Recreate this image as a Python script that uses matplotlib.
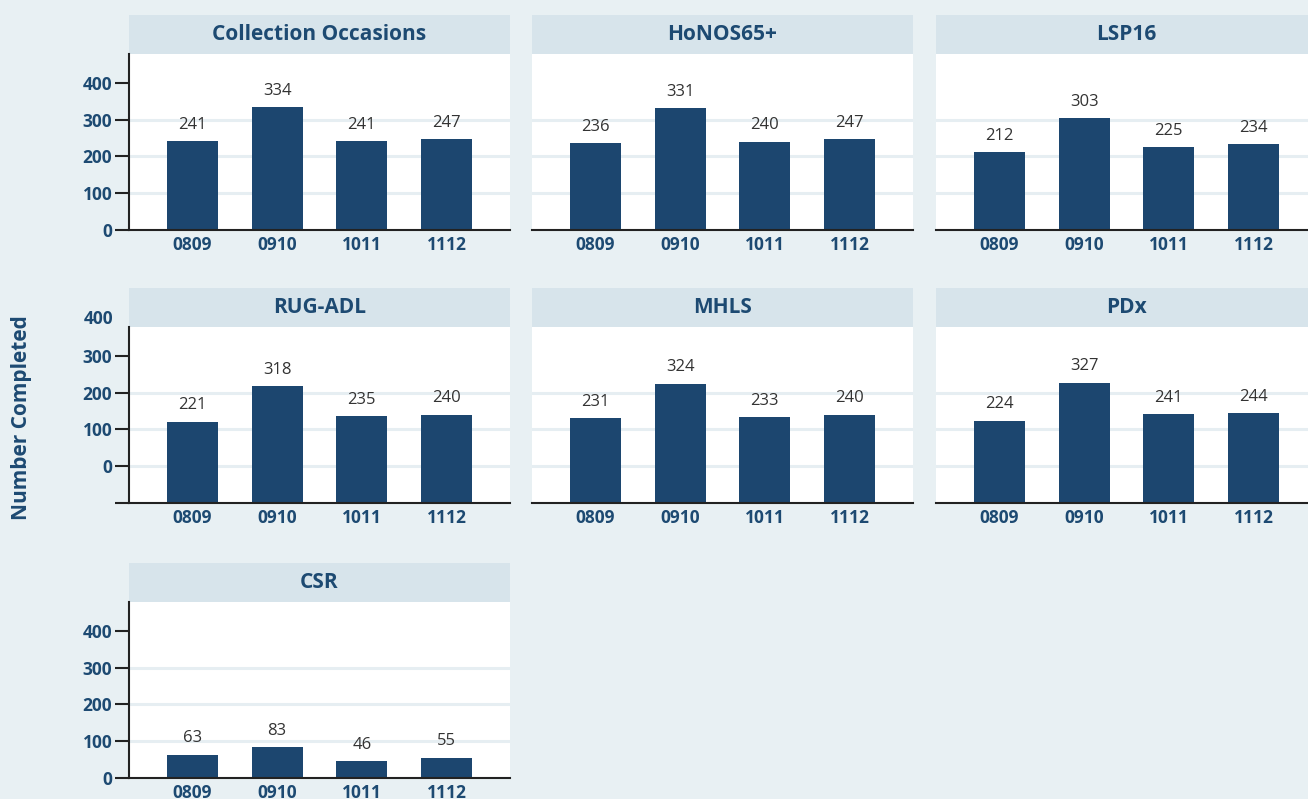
import matplotlib.pyplot as plt
from matplotlib.patches import Rectangle
from matplotlib.transforms import blended_transform_factory

plt.rcParams['font.family'] = ['Open Sans', 'DejaVu Sans']

years = ['0809', '0910', '1011', '1112']
panel_names = ['Collection Occasions', 'HoNOS65+', 'LSP16',
               'RUG-ADL', 'MHLS', 'PDx', 'CSR']
collection = [241, 334, 241, 247]
honos = [236, 331, 240, 247]
lsp16 = [212, 303, 225, 234]
rug_adl = [221, 318, 235, 240]
mhls = [231, 324, 233, 240]
pdx = [224, 327, 241, 244]
csr = [63, 83, 46, 55]
panel_values = [collection, honos, lsp16, rug_adl, mhls, pdx, csr]
y_ticks = [0, 100, 200, 300, 400]

BG = '#e8f0f3'
STRIP = '#d7e4eb'
BAR = '#1c466f'
BLUE = '#1d4a72'
GRID = '#e6eef2'

W, H = 1308, 799
fig = plt.figure(figsize=(W / 100, H / 100), dpi=100, facecolor=BG)

col_left = [129, 532, 936]
row_base = [230, 503, 778]
ax_w, ax_h, strip_h = 381, 176, 39
TICK_FS = 12.5


def draw_panel(i, name, values):
  row, col = divmod(i, 3)
  ax = fig.add_axes([col_left[col] / W, 1 - row_base[row] / H, ax_w / W, ax_h / H])
  ax.set_facecolor('white')
  x = range(len(years))
  ax.bar(x, values, width=0.6, color=BAR, zorder=3)
  for xi, v in zip(x, values):
    ax.annotate(str(v), (xi, v), xytext=(0, 6), textcoords='offset points',
                ha='center', va='bottom', fontsize=12, color='#333333')
  ax.set_xlim(-0.75, 3.75)
  ax.set_ylim(0, 478)
  for g in [100, 200, 300]:
    ax.axhline(g, color=GRID, lw=2.2, zorder=1)
  ax.set_xticks(list(x))
  ax.set_xticklabels(years, fontsize=TICK_FS, fontweight='bold', color=BLUE)
  ax.tick_params(axis='x', length=0, pad=4)
  for s in ['top', 'right']:
    ax.spines[s].set_visible(False)
  ax.spines['bottom'].set_color('#222222')
  ax.spines['bottom'].set_linewidth(1.5)
  ax.spines['bottom'].set_zorder(4)

  if col == 0:
    ax.spines['left'].set_color('#222222')
    ax.spines['left'].set_linewidth(1.5)
    ax.tick_params(axis='y', length=10, width=1.5, color='#222222', pad=2)
    ax.set_yticks(y_ticks)
    if row == 1:
      # this row's tick labels sit one step higher than the bars
      ax.set_yticklabels([''] + [str(t) for t in y_ticks[:-1]])
      tr = blended_transform_factory(ax.transAxes, ax.transData)
      ax.text(-0.04, 500, str(y_ticks[-1]), transform=tr, ha='right', va='center',
              fontsize=TICK_FS, fontweight='bold', color=BLUE)
    else:
      ax.set_yticklabels([str(t) for t in y_ticks])
    for lab in ax.get_yticklabels():
      lab.set_fontsize(TICK_FS)
      lab.set_fontweight('bold')
      lab.set_color(BLUE)
  else:
    ax.spines['left'].set_visible(False)
    ax.set_yticks([])

  sh = strip_h / ax_h
  ax.add_patch(Rectangle((0, 1), 1, sh, transform=ax.transAxes, facecolor=STRIP,
                         edgecolor='none', clip_on=False))
  ax.text(0.5, 1 + sh / 2, name, transform=ax.transAxes, ha='center', va='center',
          fontsize=15, fontweight='bold', color=BLUE)


for i, (name, values) in enumerate(zip(panel_names, panel_values)):
  draw_panel(i, name, values)

fig.text(22 / W, 1 - 418 / H, 'Number Completed', rotation=90, ha='center', va='center',
         fontsize=15, fontweight='bold', color=BLUE)

plt.savefig('out.png', dpi=100, facecolor=BG)
